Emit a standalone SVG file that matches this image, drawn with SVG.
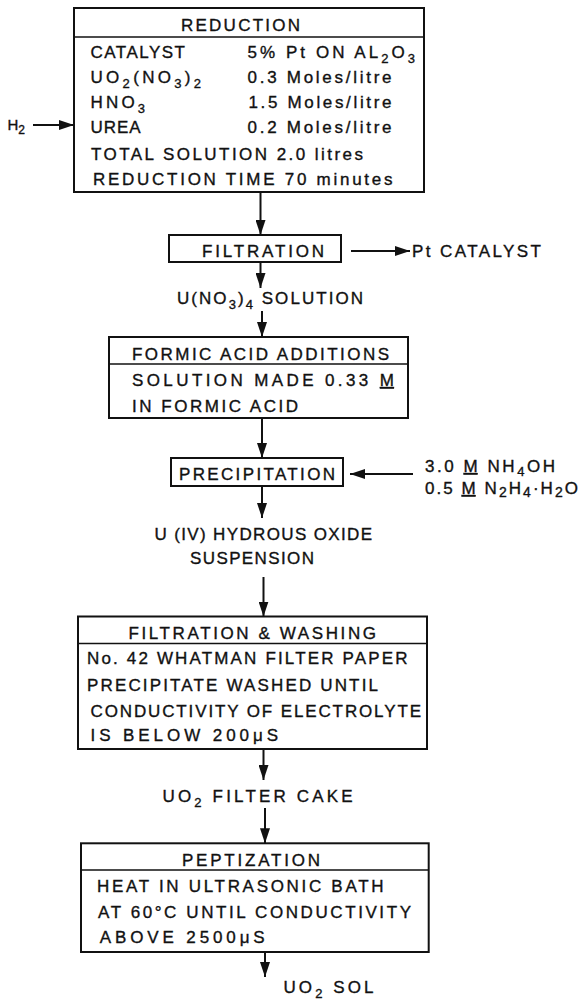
<svg xmlns="http://www.w3.org/2000/svg" width="582" height="1000" viewBox="0 0 582 1000">
<style>
text{font-family:"Liberation Sans",Arial,sans-serif;font-size:17px;fill:#111;stroke:#111;stroke-width:0.35;}
.sm{font-size:15px;}
.box{fill:none;stroke:#111;stroke-width:2;}
.sep{stroke:#111;stroke-width:1.6;}
.con{stroke:#111;stroke-width:2;fill:none;marker-end:url(#ah);}
.u{text-decoration:underline;}
</style>
<defs>
<marker id="ah" viewBox="0 0 15 10" refX="15" refY="5" markerWidth="15" markerHeight="10" markerUnits="userSpaceOnUse" orient="auto">
<path d="M0,0 L15,5 L0,10 z" fill="#111"/>
</marker>
</defs>
<rect width="582" height="1000" fill="#fff"/>

<g id="reduction">
<rect class="box" x="74" y="8" width="350" height="184"/>
<line class="sep" x1="74" y1="37" x2="424" y2="37"/>
<text x="181" y="31" textLength="119" lengthAdjust="spacing">REDUCTION</text>
<text x="90.5" y="58" textLength="94.5" lengthAdjust="spacing">CATALYST</text>
<text x="247.5" y="58" textLength="167.5" lengthAdjust="spacing">5% Pt ON AL<tspan dy="5" font-size="13">2</tspan><tspan dy="-5">O</tspan><tspan dy="5" font-size="13">3</tspan></text>
<text x="90.5" y="83" textLength="110.5" lengthAdjust="spacing">UO<tspan dy="5" font-size="13">2</tspan><tspan dy="-5">(NO</tspan><tspan dy="5" font-size="13">3</tspan><tspan dy="-5">)</tspan><tspan dy="5" font-size="13">2</tspan></text>
<text x="247.5" y="83" textLength="144" lengthAdjust="spacing">0.3 Moles/litre</text>
<text x="90.5" y="108" textLength="54.5" lengthAdjust="spacing">HNO<tspan dy="5" font-size="13">3</tspan></text>
<text x="248.5" y="108" textLength="143" lengthAdjust="spacing">1.5 Moles/litre</text>
<text x="90.5" y="133" textLength="50" lengthAdjust="spacing">UREA</text>
<text x="247.5" y="133" textLength="144" lengthAdjust="spacing">0.2 Moles/litre</text>
<text x="91" y="160" textLength="272" lengthAdjust="spacing">TOTAL SOLUTION 2.0 litres</text>
<text x="93" y="185" textLength="299.5" lengthAdjust="spacing">REDUCTION TIME 70 minutes</text>
</g>

<g id="h2">
<text class="sm" x="7.5" y="130">H<tspan dy="4" font-size="12">2</tspan></text>
</g>

<g id="filtration">
<rect class="box" x="169" y="235" width="172" height="27"/>
<text x="202" y="256.5" textLength="122" lengthAdjust="spacing">FILTRATION</text>
</g>

<g id="pt-catalyst">
<text x="412" y="257" textLength="129" lengthAdjust="spacing">Pt CATALYST</text>
</g>

<g id="u-nitrate">
<text x="177" y="304" textLength="186" lengthAdjust="spacing">U(NO<tspan dy="5" font-size="13">3</tspan><tspan dy="-5">)</tspan><tspan dy="5" font-size="13">4</tspan><tspan dy="-5"> SOLUTION</tspan></text>
</g>

<g id="formic">
<rect class="box" x="109" y="337" width="299" height="81"/>
<line class="sep" x1="109" y1="364" x2="408" y2="364"/>
<text x="132" y="360" textLength="257" lengthAdjust="spacing">FORMIC ACID ADDITIONS</text>
<text x="132" y="386" textLength="262" lengthAdjust="spacing">SOLUTION MADE 0.33 <tspan class="u">M</tspan></text>
<text x="132" y="411.5" textLength="166" lengthAdjust="spacing">IN FORMIC ACID</text>
</g>

<g id="precipitation">
<rect class="box" x="171" y="458" width="172" height="28"/>
<text x="179" y="479.5" textLength="156" lengthAdjust="spacing">PRECIPITATION</text>
</g>

<g id="reagents">
<text x="425" y="472" textLength="130" lengthAdjust="spacing">3.0 <tspan class="u">M</tspan> NH<tspan dy="4" font-size="13">4</tspan><tspan dy="-4">OH</tspan></text>
<text x="425" y="494" textLength="153" lengthAdjust="spacing">0.5 <tspan class="u">M</tspan> N<tspan dy="3" font-size="14">2</tspan><tspan dy="-3">H</tspan><tspan dy="3" font-size="14">4</tspan><tspan dy="-3">·H</tspan><tspan dy="3" font-size="14">2</tspan><tspan dy="-3">O</tspan></text>
</g>

<g id="suspension">
<text x="154.5" y="540" textLength="217.5" lengthAdjust="spacing">U (IV) HYDROUS OXIDE</text>
<text x="190" y="564" textLength="124" lengthAdjust="spacing">SUSPENSION</text>
</g>

<g id="filtration-washing">
<rect class="box" x="78" y="616.5" width="349" height="132.5"/>
<line class="sep" x1="78" y1="643.5" x2="427" y2="643.5"/>
<text x="128.5" y="638.5" textLength="247.5" lengthAdjust="spacing">FILTRATION &amp; WASHING</text>
<text x="87" y="663.5" textLength="320.5" lengthAdjust="spacing">No. 42 WHATMAN FILTER PAPER</text>
<text x="87" y="691" textLength="291" lengthAdjust="spacing">PRECIPITATE WASHED UNTIL</text>
<text x="90.5" y="716.5" textLength="330.5" lengthAdjust="spacing">CONDUCTIVITY OF ELECTROLYTE</text>
<text x="90.5" y="741" textLength="187.5" lengthAdjust="spacing">IS BELOW 200μS</text>
</g>

<g id="filter-cake">
<text x="162.5" y="801.5" textLength="190" lengthAdjust="spacing">UO<tspan dy="5" font-size="13">2</tspan><tspan dy="-5"> FILTER CAKE</tspan></text>
</g>

<g id="peptization">
<rect class="box" x="81" y="843.3" width="347.7" height="108.7"/>
<line class="sep" x1="81" y1="870" x2="428.7" y2="870"/>
<text x="182" y="865.5" textLength="138" lengthAdjust="spacing">PEPTIZATION</text>
<text x="97" y="892" textLength="286.5" lengthAdjust="spacing">HEAT IN ULTRASONIC BATH</text>
<text x="98" y="917.5" textLength="313" lengthAdjust="spacing">AT 60°C UNTIL CONDUCTIVITY</text>
<text x="99.7" y="943" textLength="165" lengthAdjust="spacing">ABOVE 2500μS</text>
</g>

<g id="uo2-sol">
<text x="283.5" y="993" textLength="90" lengthAdjust="spacing">UO<tspan dy="5" font-size="13">2</tspan><tspan dy="-5"> SOL</tspan></text>
</g>

<g id="connectors">
<line class="con" x1="33" y1="125" x2="74" y2="125"/>
<line class="con" x1="260.5" y1="192" x2="260.5" y2="235"/>
<line class="con" x1="351" y1="251" x2="410" y2="251"/>
<line class="con" x1="260.5" y1="262" x2="260.5" y2="288"/>
<line class="con" x1="262" y1="311" x2="262" y2="337"/>
<line class="con" x1="262" y1="418" x2="262" y2="458"/>
<line class="con" x1="413" y1="474" x2="350" y2="474"/>
<line class="con" x1="262" y1="486" x2="262" y2="518"/>
<line class="con" x1="263.5" y1="577" x2="263.5" y2="616.5"/>
<line class="con" x1="263.5" y1="749" x2="263.5" y2="780"/>
<line class="con" x1="265" y1="808" x2="265" y2="843.3"/>
<line class="con" x1="265" y1="952" x2="265" y2="977"/>
</g>
</svg>
